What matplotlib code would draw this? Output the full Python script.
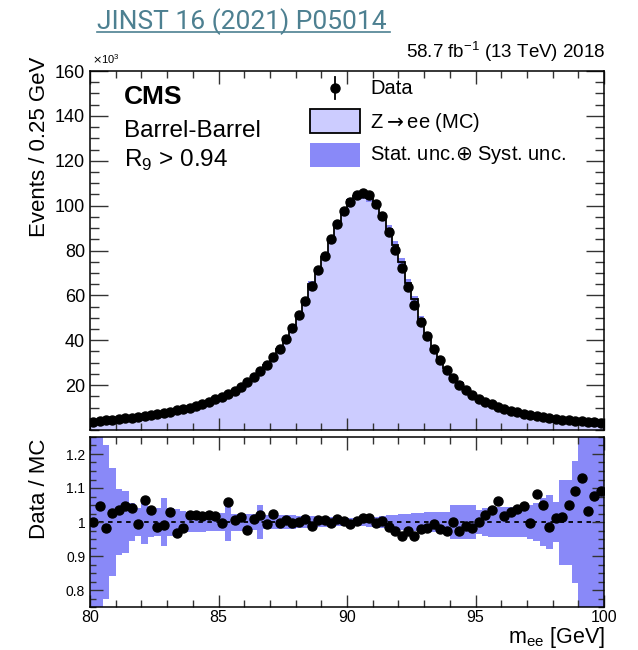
#!/usr/bin/env python3
"""Z->ee invariant mass, barrel-barrel R9 > 0.94, data vs MC with ratio panel."""

import matplotlib
matplotlib.use("Agg")
import matplotlib.pyplot as plt
import numpy as np
from matplotlib.lines import Line2D
from matplotlib.patches import Rectangle
from matplotlib.ticker import MultipleLocator, FormatStrFormatter

plt.rcParams["font.family"] = ["Liberation Sans", "DejaVu Sans"]

# ---- data (events in units of 10^3, 0.25 GeV bins from 80 to 100 GeV) ----
BIN_LO = 80.0
BIN_W = 0.25
data_k = [
    3.7, 4.0, 4.3, 4.6, 4.9, 5.2, 5.5, 5.9, 6.3, 6.7,
    7.1, 7.6, 8.1, 8.7, 9.3, 10.0, 10.8, 11.7, 12.6, 13.6,
    14.8, 16.1, 17.6, 19.3, 21.3, 23.5, 26.1, 29.0, 32.4, 36.2,
    40.6, 45.6, 51.3, 57.6, 64.3, 71.1, 77.7, 85.0, 92.0, 97.4,
    101.6, 104.6, 105.6, 104.6, 100.6, 95.4, 88.3, 80.4, 72.0, 63.8,
    55.8, 48.3, 41.7, 36.0, 31.0, 26.7, 23.2, 20.2, 17.8, 15.8,
    14.0, 12.6, 11.4, 10.4, 9.4, 8.6, 7.9, 7.2, 6.6, 6.1,
    5.6, 5.2, 4.9, 4.6, 4.3, 4.1, 3.9, 3.7, 3.5, 3.3,
]
ratio = [
    1.000, 1.047, 0.983, 1.027, 1.035, 1.047, 1.040, 0.993, 1.066, 1.035,
    0.985, 0.990, 1.030, 0.969, 0.983, 1.020, 1.020, 1.019, 1.022, 1.019,
    0.998, 1.058, 1.006, 1.016, 0.977, 1.008, 1.022, 0.995, 1.024, 0.998,
    1.006, 0.996, 1.000, 1.008, 0.988, 1.006, 1.006, 0.998, 1.008, 1.004,
    0.993, 1.004, 1.013, 1.013, 0.998, 1.003, 0.985, 0.974, 0.959, 0.974,
    0.959, 0.979, 0.981, 0.993, 0.979, 0.974, 1.000, 0.974, 0.988, 0.982,
    1.000, 1.020, 1.035, 1.061, 1.019, 1.029, 1.037, 1.047, 0.998, 1.081,
    1.049, 0.986, 1.013, 1.015, 1.049, 1.090, 1.129, 1.032, 1.076, 1.090,
]
# relative half-width of the stat (+) syst uncertainty band on MC
unc_rel = [
    0.300, 0.250, 0.226, 0.160, 0.097, 0.092, 0.055, 0.040, 0.065, 0.045,
    0.040, 0.070, 0.040, 0.037, 0.033, 0.030, 0.028, 0.028, 0.027, 0.027,
    0.026, 0.056, 0.025, 0.025, 0.024, 0.024, 0.050, 0.022, 0.022, 0.021,
    0.020, 0.020, 0.019, 0.018, 0.017, 0.016, 0.015, 0.014, 0.013, 0.012,
    0.012, 0.012, 0.013, 0.014, 0.016, 0.018, 0.020, 0.022, 0.024, 0.025,
    0.026, 0.027, 0.028, 0.028, 0.029, 0.030, 0.050, 0.050, 0.050, 0.050,
    0.035, 0.040, 0.045, 0.045, 0.045, 0.045, 0.045, 0.045, 0.050, 0.055,
    0.070, 0.080, 0.060, 0.125, 0.125, 0.180, 0.300, 0.300, 0.300, 0.300,
]

MC_FILL = "#ccccff"
UNC_FILL = "#8989f8"
TITLE_COLOR = "#4d8091"

W, H = 638, 650


def fx(px):
    return px / W


def fy(py):
    return 1 - py / H


def main():
    data = np.array(data_k)
    r = np.array(ratio)
    unc = np.array(unc_rel)
    mc = data / r
    edges = BIN_LO + BIN_W * np.arange(len(data) + 1)
    centers = 0.5 * (edges[:-1] + edges[1:])

    fig = plt.figure(figsize=(W / 100, H / 100), dpi=100)
    ax1 = fig.add_axes([fx(90), fy(430), fx(604) - fx(90), fy(71) - fy(430)])
    ax2 = fig.add_axes([fx(90), fy(607), fx(604) - fx(90), fy(437) - fy(607)])

    # ---- main panel ----
    ax1.stairs(mc, edges, fill=True, color=MC_FILL, zorder=1)
    ax1.stairs(mc * (1 + unc), edges, baseline=mc * (1 - unc), fill=True,
               color=UNC_FILL, lw=0, zorder=2)
    ax1.stairs(mc, edges, color="black", lw=1.3, zorder=3)
    ax1.plot(centers, data, "o", color="black", ms=6.5, zorder=4)
    ax1.set_xlim(80, 100)
    ax1.set_ylim(0, 160)
    ax1.set_yticks(np.arange(20, 161, 20))
    ax1.yaxis.set_minor_locator(MultipleLocator(5))
    ax1.xaxis.set_major_locator(MultipleLocator(5))
    ax1.xaxis.set_minor_locator(MultipleLocator(1))
    ax1.tick_params(axis="x", labelbottom=False)
    ax1.tick_params(axis="y", labelsize=13)
    ax1.tick_params(which="major", axis="y", length=13)
    ax1.tick_params(which="minor", axis="y", length=6.5)
    ax1.tick_params(which="major", axis="x", length=9)
    ax1.tick_params(which="minor", axis="x", length=5)

    # ---- ratio panel ----
    ax2.stairs(1 + unc, edges, baseline=1 - unc, fill=True, color=UNC_FILL,
               lw=0, zorder=1)
    ax2.axhline(1.0, color="black", lw=1.3, ls=(0, (2.5, 2.5)), zorder=2)
    ax2.plot(centers, r, "o", color="black", ms=6.5, zorder=3, clip_on=True)
    ax2.set_xlim(80, 100)
    ax2.set_ylim(0.75, 1.25)
    ax2.set_yticks([0.8, 0.9, 1.0, 1.1, 1.2])
    ax2.yaxis.set_major_formatter(FormatStrFormatter("%g"))
    ax2.yaxis.set_minor_locator(MultipleLocator(0.025))
    ax2.xaxis.set_major_locator(MultipleLocator(5))
    ax2.xaxis.set_minor_locator(MultipleLocator(1))
    ax2.tick_params(axis="y", labelsize=10)
    ax2.tick_params(axis="x", labelsize=11.5, pad=2)
    ax2.tick_params(which="major", axis="y", length=9)
    ax2.tick_params(which="minor", axis="y", length=4.5)
    ax2.tick_params(which="major", axis="x", length=9)
    ax2.tick_params(which="minor", axis="x", length=5)

    for ax in (ax1, ax2):
        ax.tick_params(which="both", direction="in", top=True, right=True,
                       color="#333333", width=1.0)
        for sp in ax.spines.values():
            sp.set_linewidth(1.1)
            sp.set_zorder(5)
        ax.set_axisbelow(False)

    # ---- labels ----
    fig.text(fx(40), fy(57), "Events / 0.25 GeV", rotation=90, ha="center",
             va="top", fontsize=16)
    fig.text(fx(40), fy(439), "Data / MC", rotation=90, ha="center",
             va="top", fontsize=16)
    fig.text(fx(605), fy(650), r"m$_{\mathregular{ee}}$ [GeV]", ha="right",
             va="bottom", fontsize=15.5)
    fig.text(fx(92), fy(66), r"$\times$10$^{\mathregular{3}}$", ha="left",
             va="bottom", fontsize=8)
    fig.text(fx(605), fy(64), r"58.7 fb$^{\mathregular{-1}}$ (13 TeV) 2018",
             ha="right", va="bottom", fontsize=13.5)

    fig.text(fx(124), fy(104), "CMS", ha="left", va="baseline",
             fontsize=19, fontweight="bold")
    fig.text(fx(124), fy(137), "Barrel-Barrel", ha="left", va="baseline",
             fontsize=17.5)
    fig.text(fx(124), fy(167), r"R$_{\mathregular{9}}$ > 0.94", ha="left",
             va="baseline", fontsize=17.5)

    # ---- legend, drawn by hand ----
    fig.add_artist(Line2D([fx(335), fx(335)], [fy(77), fy(99)], color="black",
                          lw=1.3))
    fig.add_artist(Line2D([fx(335)], [fy(88)], marker="o", color="black",
                          ms=6.5))
    fig.text(fx(370), fy(88), "Data", ha="left", va="center", fontsize=14.5)
    fig.add_artist(Rectangle((fx(310), fy(133)), fx(360) - fx(310),
                             fy(109) - fy(133), facecolor=MC_FILL,
                             edgecolor="black", lw=1.3))
    fig.text(fx(370), fy(122), r"Z$\rightarrow$ee (MC)", ha="left",
             va="center", fontsize=14.5)
    fig.add_artist(Rectangle((fx(310), fy(167)), fx(360) - fx(310),
                             fy(143) - fy(167), facecolor=UNC_FILL,
                             edgecolor="none"))
    fig.text(fx(370), fy(155), r"Stat. unc.$\oplus$ Syst. unc.", ha="left",
             va="center", fontsize=14.5)

    # ---- reference title ----
    fig.text(fx(97), fy(29), "JINST 16 (2021) P05014", ha="left",
             va="baseline", fontsize=19, color=TITLE_COLOR,
             family=["Liberation Sans Narrow", "Roboto", "DejaVu Sans"])
    fig.add_artist(Line2D([fx(97), fx(390)], [fy(32), fy(32)],
                          color=TITLE_COLOR, lw=1.2))

    fig.savefig("out.png", dpi=100)
    plt.close(fig)


if __name__ == "__main__":
    main()
